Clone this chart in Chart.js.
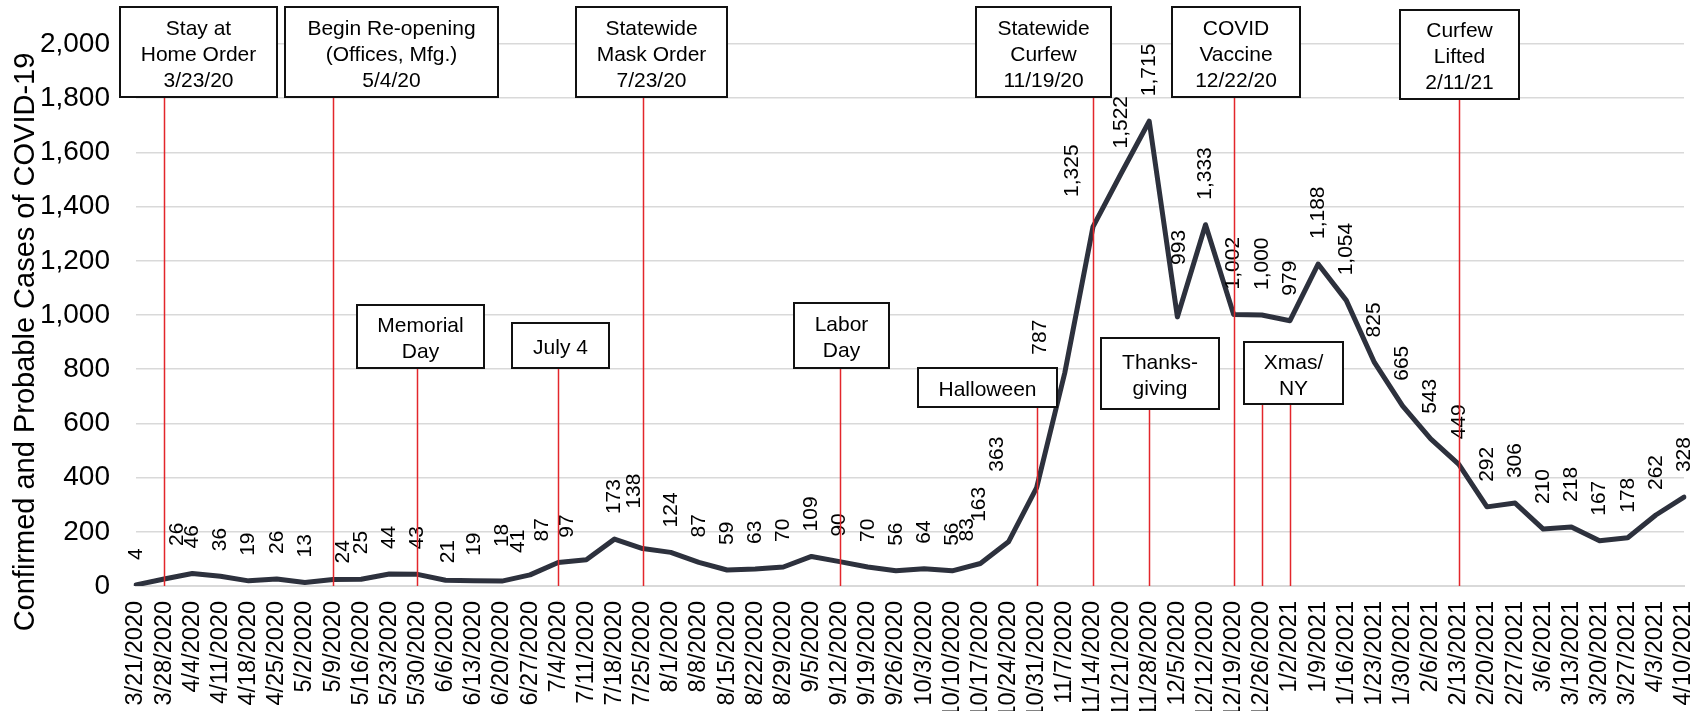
<!DOCTYPE html>
<html>
<head>
<meta charset="utf-8">
<script src="https://cdn.jsdelivr.net/npm/chart.js@4/dist/chart.umd.min.js"></script>
<style>
  html, body { margin: 0; padding: 0; background: #fff; }
</style>
</head>
<body>
<canvas id="casesChart" width="1704" height="711"></canvas>
<script>
var weeks = ["3/21/2020", "3/28/2020", "4/4/2020", "4/11/2020", "4/18/2020", "4/25/2020", "5/2/2020", "5/9/2020",
    "5/16/2020", "5/23/2020", "5/30/2020", "6/6/2020", "6/13/2020", "6/20/2020", "6/27/2020", "7/4/2020",
    "7/11/2020", "7/18/2020", "7/25/2020", "8/1/2020", "8/8/2020", "8/15/2020", "8/22/2020", "8/29/2020",
    "9/5/2020", "9/12/2020", "9/19/2020", "9/26/2020", "10/3/2020", "10/10/2020", "10/17/2020", "10/24/2020",
    "10/31/2020", "11/7/2020", "11/14/2020", "11/21/2020", "11/28/2020", "12/5/2020", "12/12/2020", "12/19/2020",
    "12/26/2020", "1/2/2021", "1/9/2021", "1/16/2021", "1/23/2021", "1/30/2021", "2/6/2021", "2/13/2021",
    "2/20/2021", "2/27/2021", "3/6/2021", "3/13/2021", "3/20/2021", "3/27/2021", "4/3/2021", "4/10/2021"];

var cases = [4, 26, 46, 36, 19, 26, 13, 24, 25, 44, 43, 21, 19, 18, 41, 87,
    97, 173, 138, 124, 87, 59, 63, 70, 109, 90, 70, 56, 64, 56, 83, 163,
    363, 787, 1325, 1522, 1715, 993, 1333, 1002, 1000, 979, 1188, 1054, 825, 665,
    543, 449, 292, 306, 210, 218, 167, 178, 262, 328];

var yTicks = [0, 200, 400, 600, 800, 1000, 1200, 1400, 1600, 1800, 2000];

// events: text of the box and the week(s) its red line points at
var eventText = [
    ["Stay at", "Home Order", "3/23/20"],
    ["Begin Re-opening", "(Offices, Mfg.)", "5/4/20"],
    ["Statewide", "Mask Order", "7/23/20"],
    ["Statewide", "Curfew", "11/19/20"],
    ["COVID", "Vaccine", "12/22/20"],
    ["Curfew", "Lifted", "2/11/21"],
    ["Memorial", "Day"],
    ["July 4"],
    ["Labor", "Day"],
    ["Halloween"],
    ["Thanks-", "giving"],
    ["Xmas/", "NY"]
];
var eventWeeks = [
    ["3/28/2020"], ["5/9/2020"], ["7/25/2020"], ["11/14/2020"], ["12/19/2020"], ["2/13/2021"],
    ["5/30/2020"], ["7/4/2020"], ["9/12/2020"], ["10/31/2020"], ["11/28/2020"], ["12/26/2020", "1/2/2021"]
];

// where the text boxes sit on the page (left, top, right, bottom)
var boxRects = [
    [120, 7, 277, 97], [285, 7, 498, 97], [576, 7, 727, 97], [976, 7, 1111, 97],
    [1172, 7, 1300, 97], [1400, 10, 1519, 99], [357, 305, 484, 368], [512, 323, 609, 368],
    [794, 303, 889, 368], [918, 368, 1057, 407], [1101, 338, 1219, 409], [1244, 342, 1343, 404]
];

// hand-moved data labels (dx, dy from the default spot above the point)
var labelNudge = {
    1: [13, -8], 7: [10, 9], 11: [3, 8], 13: [0, -9], 14: [-12, 3], 15: [-16, 4], 16: [-19, 3],
    18: [-8, -15], 30: [-13, 3], 31: [-29, 5], 32: [-39, 9], 33: [-25, 7], 34: [-21, -5], 37: [2, -27]
};

var FONT = "'Liberation Sans', Arial, sans-serif";

var overlayPlugin = {
    id: "overlay",
    afterDatasetsDraw: function (chart) {
        var ctx = chart.ctx;
        var xs = chart.scales.x;
        var area = chart.chartArea;
        var meta = chart.getDatasetMeta(0);

        // value labels, rotated
        ctx.save();
        ctx.fillStyle = "#000";
        ctx.font = "21px " + FONT;
        meta.data.forEach(function (pt, i) {
            var n = labelNudge[i] || [0, 0];
            ctx.save();
            ctx.translate(pt.x + n[0], pt.y - 25 + n[1]);
            ctx.rotate(-Math.PI / 2);
            ctx.textAlign = "left";
            ctx.textBaseline = "middle";
            ctx.fillText(cases[i].toLocaleString("en-US"), 0, 0);
            ctx.restore();
        });
        ctx.restore();

        // red event lines + boxes
        ctx.save();
        eventText.forEach(function (lines, k) {
            var r = boxRects[k];
            ctx.strokeStyle = "#e3262b";
            ctx.lineWidth = 1.5;
            eventWeeks[k].forEach(function (wk) {
                var x = Math.round(xs.getPixelForValue(weeks.indexOf(wk))) + 0.5;
                ctx.beginPath();
                ctx.moveTo(x, r[3]);
                ctx.lineTo(x, area.bottom);
                ctx.stroke();
            });
            ctx.fillStyle = "#fff";
            ctx.fillRect(r[0], r[1], r[2] - r[0], r[3] - r[1]);
            ctx.strokeStyle = "#111";
            ctx.lineWidth = 2;
            ctx.strokeRect(r[0], r[1], r[2] - r[0], r[3] - r[1]);
            ctx.fillStyle = "#000";
            ctx.font = "21px " + FONT;
            ctx.textAlign = "center";
            ctx.textBaseline = "middle";
            var cx = (r[0] + r[2]) / 2;
            var cy = (r[1] + r[3]) / 2 + 3;
            lines.forEach(function (t, j) {
                ctx.fillText(t, cx, cy + (j - (lines.length - 1) / 2) * 26);
            });
        });
        ctx.restore();

        // y axis title
        ctx.save();
        ctx.fillStyle = "#000";
        ctx.font = "29px " + FONT;
        ctx.translate(26, 342);
        ctx.rotate(-Math.PI / 2);
        ctx.textAlign = "center";
        ctx.textBaseline = "middle";
        ctx.fillText("Confirmed and Probable Cases of COVID-19", 0, 0);
        ctx.restore();
    }
};

var config = {
    type: "line",
    data: {
        labels: weeks,
        datasets: [
            {
                data: cases,
                borderColor: "#2d313d",
                borderWidth: 5,
                pointRadius: 0,
                tension: 0,
                borderJoinStyle: "round",
                borderCapStyle: "round",
            },
        ],
    },
    options: {
        responsive: false,
        animation: false,
        devicePixelRatio: 1,
        layout: { padding: { top: 44, right: 20, left: 0, bottom: 0 } },
        plugins: { legend: { display: false }, tooltip: { enabled: false } },
        scales: {
            x: {
                offset: false,
                grid: { display: false, drawTicks: false },
                border: { display: true, color: "#d9d9d9", width: 2 },
                ticks: {
                    autoSkip: false,
                    minRotation: 90,
                    maxRotation: 90,
                    padding: 15,
                    color: "#000",
                    font: { family: FONT, size: 23.5 },
                },
                afterFit: function (s) {
                    s.height = 125;
                    s.paddingLeft = 0;
                    s.paddingRight = 0;
                },
            },
            y: {
                min: 0,
                max: 2000,
                afterBuildTicks: function (s) {
                    s.ticks = yTicks.map(function (v) { return { value: v }; });
                },
                ticks: {
                    padding: 26,
                    color: "#000",
                    font: { family: FONT, size: 28 },
                    callback: function (v) { return v.toLocaleString("en-US"); },
                },
                grid: { color: "#d9d9d9", lineWidth: 1.5, drawTicks: false },
                border: { display: false },
                afterFit: function (s) { s.width = 136; },
            },
        },
    },
    plugins: [overlayPlugin],
};

var casesChart = new Chart(document.getElementById("casesChart"), config);
</script>
</body>
</html>
